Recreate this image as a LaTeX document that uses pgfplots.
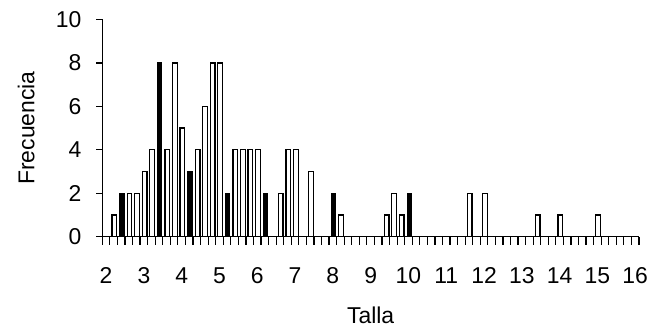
\documentclass[border=0pt]{standalone}
\usepackage{pgfplots}
\pgfplotsset{compat=1.18}
\usepackage{fontspec}
\setmainfont{Liberation Sans}
\begin{document}
\fontsize{23}{27}\selectfont
\begin{tikzpicture}
\path[use as bounding box] (-102.3bp,-93.3bp) rectangle (559.7bp,236.7bp);
\begin{axis}[
  at={(0,0)}, anchor=south west,
  scale only axis, width=536.7bp, height=217.2bp,
  xmin=1.9, xmax=16.1, ymin=0, ymax=10,
  axis x line*=bottom, axis y line*=left,
  axis line style={line width=1.2bp, -},
  tick align=outside,
  major tick length=6bp, minor tick length=8bp,
  every tick/.style={line width=1.2bp, black},
  xtick={2,3,...,16},
  major x tick style={draw=none},
  minor xtick={1.9,2.1,...,16.15},
  ytick={0,2,...,10},
  /pgf/number format/assume math mode=true,
  ticklabel style={font=\fontsize{23}{27}\selectfont},
  xticklabel style={anchor=center},
  xticklabel shift=33bp,
  yticklabel style={anchor=east},
  yticklabel shift=7bp,
  xlabel={Talla}, ylabel={Frecuencia},
  label style={font=\fontsize{23}{27}\selectfont},
  xlabel style={at={(axis description cs:0.5,0)}, anchor=center, yshift=-79bp},
  ylabel style={at={(axis description cs:0,0.5)}, anchor=center, yshift=76bp},
  clip=false,
]
\addplot[ybar, bar width=0.125, bar shift=0.02, draw=black, fill=white, line width=1.25bp] coordinates {
(2.2,1) (2.6,2) (2.8,2) (3.0,3) (3.2,4) (3.6,4) (3.8,8) (4.0,5) (4.4,4) (4.6,6)
(4.8,8) (5.0,8) (5.4,4) (5.6,4) (5.8,4) (6.0,4) (6.6,2) (6.8,4) (7.0,4) (7.4,3)
(8.2,1) (9.4,1) (9.6,2) (9.8,1) (11.6,2) (12.0,2) (13.4,1) (14.0,1) (15.0,1)
};
\addplot[ybar, bar width=0.105, bar shift=0.02, draw=black, fill=black, line width=1.25bp] coordinates {
(2.4,2) (3.4,8) (4.2,3) (5.2,2) (6.2,2) (8.0,2) (10.0,2)
};
\end{axis}
\end{tikzpicture}
\end{document}
